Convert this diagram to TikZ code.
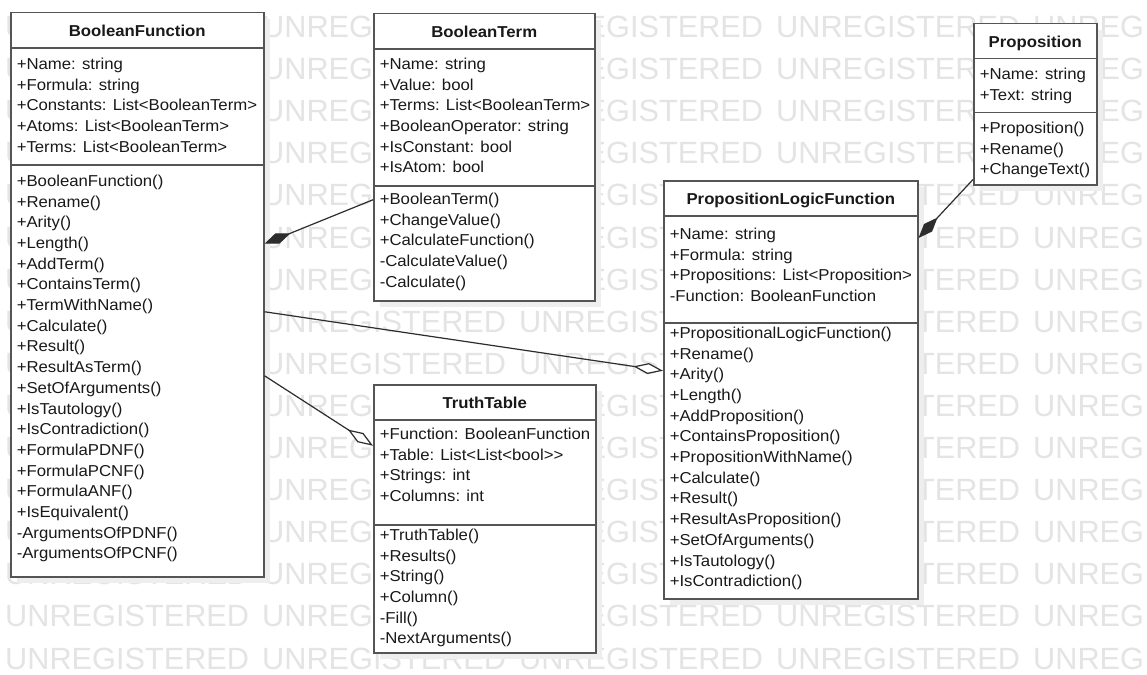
\documentclass[tikz,border=0pt]{standalone}
\usepackage{fontspec}
\setmainfont{Liberation Sans}
\newfontfamily\umlfont{Liberation Sans}[FakeStretch=1.06]
\usepackage{xcolor}
\usepackage{colortbl}
\usepackage{tikz}
\usetikzlibrary{arrows.meta, shadows}
\definecolor{boxline}{RGB}{85, 85, 85}
\definecolor{linedark}{RGB}{45, 45, 45}
\definecolor{textdark}{RGB}{25, 25, 25}
\definecolor{shade}{RGB}{238, 238, 238}
\definecolor{watermark}{RGB}{228, 228, 228}
\setlength{\arrayrulewidth}{1.5pt}
\arrayrulecolor{boxline}
\newcommand{\classhead}[2]{\multicolumn{1}{@{}c@{}}{\makebox[#1pt]{\rule[-10.65pt]{0pt}{34.25pt}\textbf{#2}}}}
\newcommand{\padtop}[1]{\rule{0pt}{#1pt}}
\newcommand{\padbot}[1]{\rule[-#1pt]{0pt}{#1pt}}
\tikzstyle{umlclass} = [rectangle, draw=boxline, line width=1.5pt, fill=white, inner sep=0pt, anchor=north west, text=textdark, font=\umlfont\fontsize{15.8}{20.7}\selectfont, drop shadow={shadow xshift=6pt, shadow yshift=-6pt, fill=shade, opacity=1}]
\tikzstyle{wmark} = [inner sep=0pt, anchor=west, text=watermark, font=\fontsize{30.7}{36}\selectfont]
\tikzstyle{composite} = [line width=1.2pt, draw=linedark, -{Diamond[length=28pt, width=11pt]}]
\tikzstyle{aggregate} = [line width=1.2pt, draw=linedark, -{Diamond[open, fill=white, length=30pt, width=11pt]}]

\begin{document}
\begin{tikzpicture}[x=1pt, y=-1pt]
    \useasboundingbox (0,0) rectangle (1147,674);
    \fill[white] (0,0) rectangle (1147,674);

    % Watermark
    \foreach \r in {0,...,15} {
        \foreach \c in {0,...,3}
            \node[wmark] (wm-\r-\c) at ({5+257*\c}, {27+42.1*\r}) {UNREGISTERED};
        \node[wmark] (wm-\r-4) at (1033, {27+42.1*\r}) {UNREG};
    }

    % Boolean side
    \node[umlclass] (bf) at (10, 12) {
        \begin{tabular}{@{\hspace{6pt}}l@{}}
            \classhead{253}{BooleanFunction} \\ \hline
            \padtop{20.85}+Name: string \\
            +Formula: string \\
            +Constants: List<BooleanTerm> \\
            +Atoms: List<BooleanTerm> \\
            +Terms: List<BooleanTerm>\padbot{11.85} \\ \hline
            \padtop{20.85}+BooleanFunction() \\
            +Rename() \\
            +Arity() \\
            +Length() \\
            +AddTerm() \\
            +ContainsTerm() \\
            +TermWithName() \\
            +Calculate() \\
            +Result() \\
            +ResultAsTerm() \\
            +SetOfArguments() \\
            +IsTautology() \\
            +IsContradiction() \\
            +FormulaPDNF() \\
            +FormulaPCNF() \\
            +FormulaANF() \\
            +IsEquivalent() \\
            -ArgumentsOfPDNF() \\
            -ArgumentsOfPCNF()\padbot{17.8}
        \end{tabular}
    };

    \node[umlclass] (bt) at (373, 13) {
        \begin{tabular}{@{\hspace{6pt}}l@{}}
            \classhead{221}{BooleanTerm} \\ \hline
            \padtop{19.85}+Name: string \\
            +Value: bool \\
            +Terms: List<BooleanTerm> \\
            +BooleanOperator: string \\
            +IsConstant: bool \\
            +IsAtom: bool\padbot{12.15} \\ \hline
            \padtop{17.85}+BooleanTerm() \\
            +ChangeValue() \\
            +CalculateFunction() \\
            -CalculateValue() \\
            -Calculate()\padbot{13.6}
        \end{tabular}
    };

    \node[umlclass] (tt) at (373, 384) {
        \begin{tabular}{@{\hspace{6pt}}l@{}}
            \classhead{222}{TruthTable} \\ \hline
            \padtop{18.85}+Function: BooleanFunction \\
            +Table: List<List<bool>{}> \\
            +Strings: int \\
            +Columns: int\padbot{22.55} \\ \hline
            \padtop{14.85}+TruthTable() \\
            +Results() \\
            +String() \\
            +Column() \\
            -Fill() \\
            -NextArguments()\padbot{8.9}
        \end{tabular}
    };

    % Proposition side
    \node[umlclass] (plf) at (663, 180) {
        \begin{tabular}{@{\hspace{6pt}}l@{}}
            \classhead{254}{PropositionLogicFunction} \\ \hline
            \padtop{22.85}+Name: string \\
            +Formula: string \\
            +Propositions: List<Proposition> \\
            -Function: BooleanFunction\padbot{20.55} \\ \hline
            \padtop{14.85}+PropositionalLogicFunction() \\
            +Rename() \\
            +Arity() \\
            +Length() \\
            +AddProposition() \\
            +ContainsProposition() \\
            +PropositionWithName() \\
            +Calculate() \\
            +Result() \\
            +ResultAsProposition() \\
            +SetOfArguments() \\
            +IsTautology() \\
            +IsContradiction()\padbot{12}
        \end{tabular}
    };

    \node[umlclass] (prop) at (973, 23) {
        \begin{tabular}{@{\hspace{6pt}}l@{}}
            \classhead{123}{Proposition} \\ \hline
            \padtop{19.85}+Name: string \\
            +Text: string\padbot{11.95} \\ \hline
            \padtop{19.85}+Proposition() \\
            +Rename() \\
            +ChangeText()\padbot{10}
        \end{tabular}
    };

    % Composition and aggregation
    \draw[composite] ([yshift=-42.5pt]bt.west) -- ([yshift=51pt]bf.east);
    \draw[aggregate] ([yshift=-17pt]bf.east) -- ([yshift=19pt]plf.west);
    \draw[aggregate] ([yshift=-81pt]bf.east) -- ([yshift=73pt]tt.west);
    \draw[composite] ([yshift=6pt]prop.south west) -- ([yshift=-58pt]plf.north east);
\end{tikzpicture}
\end{document}
